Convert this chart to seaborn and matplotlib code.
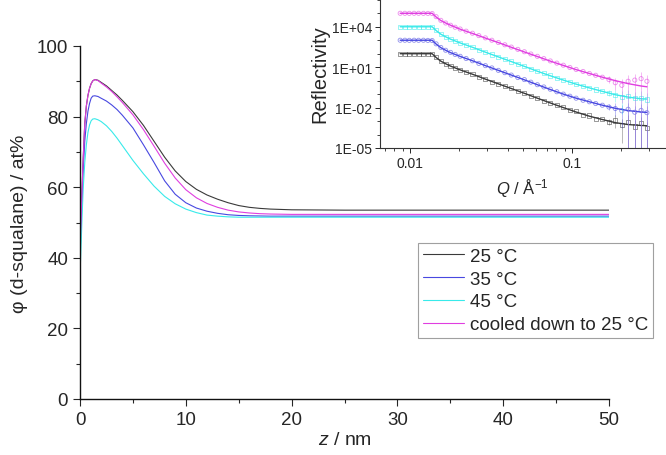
import matplotlib
matplotlib.use("Agg")
import matplotlib.pyplot as plt
import numpy as np
import pandas as pd
import seaborn as sns
from matplotlib.lines import Line2D
from matplotlib.ticker import FixedFormatter, FixedLocator, MultipleLocator, NullFormatter

# %% Main panel: volume fraction profiles
z_nm = [0, 0.1, 0.2, 0.3, 0.45, 0.6, 0.75, 0.9, 1.05, 1.2,
        1.4, 1.7, 2, 2.5, 3, 3.5, 4, 5, 6, 7,
        8, 9, 10, 11, 12, 13, 14, 15, 16, 17,
        18, 20, 25, 30, 40, 50]
phi_25 = [42, 51, 60, 68, 78, 83, 86, 88, 89.3, 90.1,
          90.5, 90.3, 89.7, 88.7, 87.4, 86.1, 84.6, 81.4, 77.5, 73.0,
          68.5, 64.6, 61.6, 59.4, 57.8, 56.6, 55.6, 54.8, 54.3, 54.0,
          53.8, 53.6, 53.5, 53.5, 53.5, 53.5]
phi_35 = [40, 48.5, 57, 64.5, 73, 78, 81.5, 83.7, 85.2, 85.8,
          85.9, 85.7, 85.2, 84.4, 83.3, 82.0, 80.4, 76.8, 72.0, 67.0,
          61.8, 58.0, 55.6, 54.1, 53.2, 52.6, 52.2, 52.0, 51.9, 51.85,
          51.8, 51.8, 51.8, 51.8, 51.8, 51.8]
phi_45 = [35, 43.5, 52, 59.5, 67, 72, 75.5, 77.6, 78.8, 79.3,
          79.4, 79.1, 78.6, 77.4, 75.8, 73.9, 71.8, 67.6, 63.8, 60.3,
          57.4, 55.3, 53.8, 52.8, 52.1, 51.8, 51.6, 51.5, 51.5, 51.5,
          51.5, 51.5, 51.5, 51.5, 51.5, 51.5]
phi_cooled = [42, 51, 60, 68, 78, 83, 86, 88, 89.3, 90.1,
              90.5, 90.2, 89.5, 88.4, 87.1, 85.6, 84.0, 80.5, 76.3, 71.6,
              66.8, 62.6, 59.3, 57.0, 55.4, 54.3, 53.5, 53.0, 52.7, 52.5,
              52.4, 52.3, 52.3, 52.3, 52.3, 52.3]

series_labels = ["25 °C", "35 °C", "45 °C", "cooled down to 25 °C"]
series_colors = ["#3a3a3a", "#4848e0", "#38eaea", "#e03ee0"]

# %% Inset: reflectivity data and fits
q_data = [0.0087, 0.0093, 0.0099, 0.0106, 0.0113, 0.0121, 0.0129, 0.0137, 0.0145, 0.0155,
          0.0166, 0.0178, 0.019, 0.0204, 0.0222, 0.0243, 0.0266, 0.0292, 0.032, 0.0351,
          0.0385, 0.0422, 0.0463, 0.0508, 0.0557, 0.0611, 0.067, 0.0735, 0.0806, 0.0884,
          0.097, 0.106, 0.117, 0.128, 0.14, 0.154, 0.169, 0.185, 0.203, 0.222,
          0.244, 0.267, 0.29]
r_25 = [100, 98, 100, 97, 100, 99, 98, 96, 55, 29,
        18, 12, 8.7, 6.4, 4.3, 3.1, 1.9, 1.3, 0.85, 0.6,
        0.38, 0.27, 0.16, 0.12, 0.074, 0.052, 0.033, 0.023, 0.0145, 0.0105,
        0.0066, 0.0052, 0.003, 0.0026, 0.0015, 0.0014, 0.0008, 0.0011, 0.0005, 0.0009,
        0.0004, 0.0007, 0.0003]
r_35 = [1000, 1000, 980, 1000, 990, 1000, 970, 950, 540, 290,
        180, 125, 88, 64, 44, 30, 19, 13, 8.8, 5.8,
        3.9, 2.6, 1.7, 1.2, 0.77, 0.5, 0.34, 0.23, 0.15, 0.1,
        0.07, 0.05, 0.035, 0.027, 0.02, 0.015, 0.011, 0.0085, 0.0058, 0.0075,
        0.0045, 0.0062, 0.0042]
r_45 = [10000, 10000, 9900, 10000, 9800, 10000, 9700, 9500, 5400, 2900,
        1800, 1250, 880, 640, 440, 300, 190, 130, 88, 58,
        39, 26, 17, 12, 7.7, 5.1, 3.5, 2.4, 1.6, 1.1,
        0.78, 0.55, 0.4, 0.3, 0.22, 0.16, 0.12, 0.09, 0.062, 0.07,
        0.048, 0.055, 0.04]
r_cooled = [100000, 100000, 99000, 100000, 100000, 99000, 98000, 96000, 56000, 30000,
            19000, 13000, 9200, 6800, 4700, 3300, 2200, 1500, 1000, 680,
            460, 310, 210, 140, 95, 64, 43, 29, 20, 14,
            9.5, 6.8, 4.8, 3.4, 2.5, 1.8, 1.2, 0.7, 0.45, 0.9,
            1.1, 1.4, 0.9]
# relative error of the last seven points (noisy high-Q end)
err_tail = [0.4, 0.7, 0.95, 1.0, 1.0, 1.0, 1.0]

q_fit = [0.0087, 0.0137, 0.0145, 0.0155, 0.0166, 0.0178, 0.0204, 0.0243, 0.0292, 0.0351, 0.0422,
         0.0508, 0.0611, 0.0735, 0.0884, 0.106, 0.128, 0.154, 0.185, 0.222, 0.267, 0.29]
fit_25 = [100, 100, 52, 28, 18, 12, 6.3, 3.0, 1.3, 0.58, 0.26,
          0.115, 0.050, 0.022, 0.010, 0.0047, 0.0023, 0.0013, 0.00076, 0.00055, 0.00047, 0.00045]
fit_35 = [1000, 1000, 520, 280, 180, 120, 63, 30, 13, 5.8, 2.6,
          1.15, 0.5, 0.22, 0.1, 0.05, 0.027, 0.015, 0.0088, 0.006, 0.0047, 0.0044]
fit_45 = [10000, 10000, 5200, 2800, 1800, 1200, 630, 300, 130, 58, 26,
          11.5, 5.0, 2.3, 1.1, 0.55, 0.29, 0.16, 0.09, 0.06, 0.045, 0.043]
fit_cooled = [100000, 100000, 53000, 29000, 19000, 13000, 6600, 3200, 1450, 670, 300,
              135, 62, 28, 13.5, 6.6, 3.4, 1.8, 1.0, 0.6, 0.4, 0.35]

inset_markers = ["s", "o", "s", "o"]

# %% Style
sns.set_style("ticks")
plt.rcParams["font.family"] = ["Liberation Sans", "DejaVu Sans"]
plt.rcParams["mathtext.fontset"] = "custom"
plt.rcParams["mathtext.rm"] = "Liberation Sans"
plt.rcParams["mathtext.it"] = "Liberation Sans:italic"

fig = plt.figure(figsize=(6.66, 4.56), dpi=100)
ax = fig.add_axes([80 / 666, 1 - 400 / 456, 529 / 666, 353 / 456])

profiles = pd.concat(
    [
        pd.DataFrame({"z": z_nm, "phi": vals, "series": lab})
        for vals, lab in zip([phi_25, phi_35, phi_45, phi_cooled], series_labels)
    ]
)
sns.lineplot(
    data=profiles,
    x="z",
    y="phi",
    hue="series",
    hue_order=series_labels,
    palette=series_colors,
    estimator=None,
    sort=False,
    lw=0.8,
    legend=False,
    ax=ax,
)

ax.set_xlim(0, 50)
ax.set_ylim(0, 100)
ax.xaxis.set_major_locator(MultipleLocator(10))
ax.xaxis.set_minor_locator(MultipleLocator(5))
ax.yaxis.set_major_locator(MultipleLocator(20))
ax.yaxis.set_minor_locator(MultipleLocator(10))
ax.tick_params(which="major", length=5, width=0.8, labelsize=13.5, direction="out")
ax.tick_params(which="minor", length=2.8, width=0.8, direction="out")
sns.despine(ax=ax)
for side in ["left", "bottom"]:
    ax.spines[side].set_linewidth(1.0)
    ax.spines[side].set_color("#111111")
ax.set_xlabel("$z$ / nm", fontsize=14, labelpad=2)
ax.set_ylabel("φ (d-squalane) / at%", fontsize=14, labelpad=6)

handles = [Line2D([], [], color=c, lw=0.8) for c in series_colors]
leg = ax.legend(
    handles,
    series_labels,
    loc="upper left",
    bbox_to_anchor=(418 / 666, 1 - 244 / 456),
    bbox_transform=fig.transFigure,
    borderaxespad=0,
    fontsize=13.5,
    frameon=True,
    fancybox=False,
    handlelength=2.2,
    handletextpad=0.35,
    labelspacing=0.3,
    borderpad=0.25,
)
leg.get_frame().set_edgecolor("#888888")
leg.get_frame().set_linewidth(0.8)

# %% Inset
ax_in = fig.add_axes([380 / 666, 1 - 149 / 456, 285 / 666, 149 / 456])
ax_in.set_xscale("log")
ax_in.set_yscale("log")

all_data = [r_25, r_35, r_45, r_cooled]
all_fits = [fit_25, fit_35, fit_45, fit_cooled]
n_tail = len(err_tail)
for r_vals, fit_vals, color, marker in zip(all_data, all_fits, series_colors, inset_markers):
    q_tail = q_data[-n_tail:]
    r_tail = np.array(r_vals[-n_tail:])
    lower = r_tail * np.array(err_tail)
    upper = r_tail * np.array(err_tail) * 2
    ax_in.errorbar(q_tail, r_tail, yerr=[lower, upper], fmt="none", ecolor=color, elinewidth=0.5, alpha=0.5, capsize=0)
    sns.scatterplot(
        x=q_data,
        y=r_vals,
        marker=marker,
        s=9,
        facecolor="none",
        edgecolor=color,
        linewidth=0.6,
        alpha=0.6,
        ax=ax_in,
    )
    sns.lineplot(x=q_fit, y=fit_vals, color=color, lw=1.0, estimator=None, sort=False, ax=ax_in)

ax_in.set_xlim(0.00653, 0.375)
ax_in.set_ylim(1e-5, 1.15e6)
ax_in.yaxis.set_major_locator(FixedLocator([1e-5, 1e-2, 1e1, 1e4]))
ax_in.yaxis.set_major_formatter(FixedFormatter(["1E-05", "1E-02", "1E+01", "1E+04"]))
ax_in.yaxis.set_minor_locator(FixedLocator([1e-4, 1e-3, 1e-1, 1e0, 1e2, 1e3, 1e5, 1e6]))
ax_in.yaxis.set_minor_formatter(NullFormatter())
ax_in.xaxis.set_major_locator(FixedLocator([0.01, 0.1]))
ax_in.xaxis.set_major_formatter(FixedFormatter(["0.01", "0.1"]))
ax_in.xaxis.set_minor_locator(
    FixedLocator([0.007, 0.008, 0.009, 0.02, 0.03, 0.04, 0.05, 0.06, 0.07, 0.08, 0.09, 0.2, 0.3])
)
ax_in.xaxis.set_minor_formatter(NullFormatter())
ax_in.tick_params(which="major", length=3.5, width=0.7, labelsize=10, direction="out", pad=2)
ax_in.tick_params(which="minor", length=2, width=0.6, direction="out")
ax_in.patch.set_alpha(0)
sns.despine(ax=ax_in)
for side in ["left", "bottom"]:
    ax_in.spines[side].set_linewidth(0.8)
    ax_in.spines[side].set_color("#333333")
ax_in.set_xlabel("$Q$ / Å$^{-1}$", fontsize=12, labelpad=5)
ax_in.set_ylabel("Reflectivity", fontsize=14.5, labelpad=2)

fig.savefig("out.png", dpi=100)
